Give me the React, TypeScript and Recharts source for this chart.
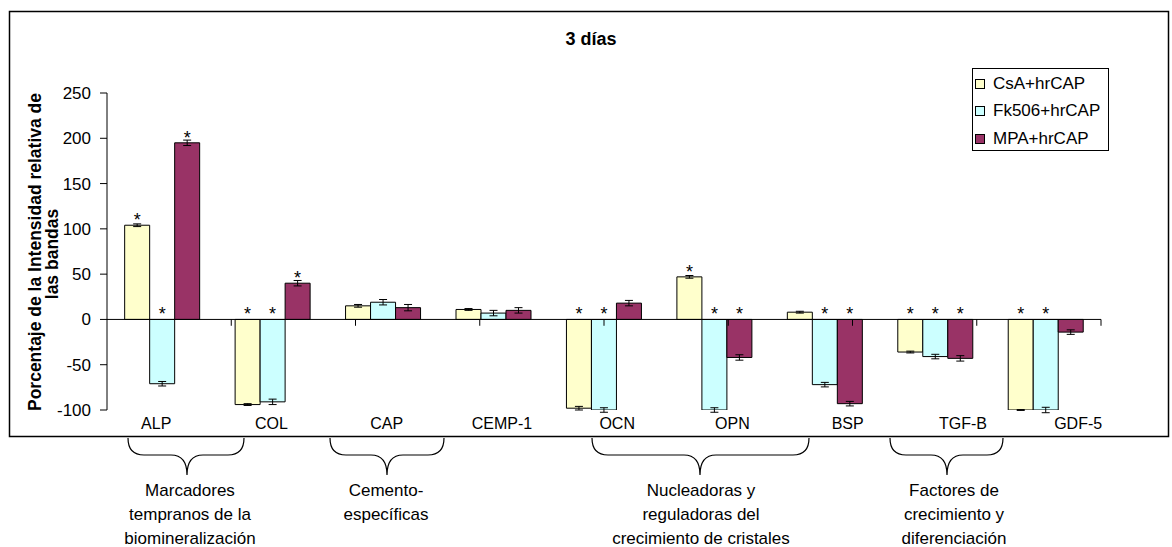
import React from 'react'
import {
  BarChart,
  Bar,
  XAxis,
  YAxis,
  ErrorBar,
  LabelList,
  Legend,
  ReferenceLine,
} from 'recharts'

const FONT = "'Liberation Sans', Arial, sans-serif"

const categories = ['ALP', 'COL', 'CAP', 'CEMP-1', 'OCN', 'OPN', 'BSP', 'TGF-B', 'GDF-5']

const csaValues = [104, -94, 15, 11, -98, 47, 8, -36, -100]
const csaErrors = [1.5, 1, 1.5, 1, 2, 1.5, 1, 1, 0.5]
const csaSig = [true, true, false, false, true, true, false, true, true]

const fk506Values = [-71, -91, 19, 7, -100, -100, -72, -41, -100]
const fk506Errors = [2.5, 3, 3, 3, 2.5, 2.5, 2.5, 2.5, 3]
const fk506Sig = [true, true, false, false, true, true, true, true, true]

const mpaValues = [195, 40, 13, 10, 18, -42, -93, -43, -14]
const mpaErrors = [3, 3, 3.5, 3, 3, 3, 2.5, 3, 2.5]
const mpaSig = [true, true, false, false, false, true, true, true, false]

const yTicks = [-100, -50, 0, 50, 100, 150, 200, 250]
const boundaryTicks = [1, 2, 3, 4, 5, 6, 7, 8, 9]

const groups = [
  { lines: ['Marcadores', 'tempranos de la', 'biomineralización'], x1: 128, x2: 244, mid: 187, tx: 190 },
  { lines: ['Cemento-', 'específicas'], x1: 330, x2: 444, mid: 387, tx: 386 },
  { lines: ['Nucleadoras y', 'reguladoras del', 'crecimiento de cristales'], x1: 592, x2: 809, mid: 700, tx: 701 },
  { lines: ['Factores de', 'crecimiento y', 'diferenciación'], x1: 890, x2: 1003, mid: 947, tx: 954 },
]

const data = categories.map((name, i) => ({
  name,
  csa: csaValues[i],
  csaErr: csaErrors[i],
  fk506: fk506Values[i],
  fk506Err: fk506Errors[i],
  mpa: mpaValues[i],
  mpaErr: mpaErrors[i],
}))

function makeStar(values: number[], sig: boolean[]) {
  return (props: any) => {
    const { x, y, width, height, index } = props
    if (!sig[index]) return null
    const top = Math.min(y, y + height)
    const ty = values[index] >= 0 ? top + 1 : top + 1
    return (
      <text x={x + width / 2} y={ty} textAnchor="middle" fontSize={18} fontFamily={FONT} fill="#000">
        *
      </text>
    )
  }
}

function CategoryTick({ x, y, payload, index }: any) {
  // Excel drifted the labels a little to the right
  const dx = -6 + 4.8 * index
  return (
    <text x={x + dx} y={y} dy="0.71em" textAnchor="middle" fontSize={16} fontFamily={FONT} fill="#000">
      {payload.value}
    </text>
  )
}

function LegendBox({ payload }: any) {
  return (
    <div
      style={{
        width: 137,
        height: 83,
        border: '1px solid #000',
        boxSizing: 'border-box',
        background: '#fff',
        fontFamily: FONT,
        fontSize: 17,
        paddingTop: 1,
      }}
    >
      {(payload || []).map((p: any) => (
        <div key={p.value} style={{ display: 'flex', alignItems: 'center', height: 27.5 }}>
          <span
            style={{
              width: 10,
              height: 10,
              marginLeft: 2,
              marginRight: 8,
              background: p.color,
              border: '1px solid #000',
              boxSizing: 'border-box',
            }}
          />
          <span>{p.value}</span>
        </div>
      ))}
    </div>
  )
}

function Brace({ x1, x2, mid }: { x1: number; x2: number; mid: number }) {
  const top = 438
  const line = 455
  const tip = 475
  const r = 16
  const d = `M ${x1} ${top} Q ${x1} ${line} ${x1 + r} ${line} L ${mid - r} ${line} Q ${mid} ${line} ${mid} ${tip} Q ${mid} ${line} ${mid + r} ${line} L ${x2 - r} ${line} Q ${x2} ${line} ${x2} ${top}`
  return <path d={d} fill="none" stroke="#000" strokeWidth={1.2} />
}

export default function App() {
  return (
    <div style={{ position: 'absolute', left: 0, top: 0, width: 1172, height: 547, background: '#fff' }}>
      <BarChart
        width={1172}
        height={547}
        data={data}
        margin={{ top: 93, right: 71, left: 47, bottom: 107 }}
        barCategoryGap="16%"
        barGap={0}
      >
        <XAxis
          dataKey="name"
          height={30}
          axisLine={false}
          tickLine={false}
          tickSize={0}
          tickMargin={8}
          tick={<CategoryTick />}
          interval={0}
        />
        <XAxis xAxisId="n" type="number" domain={[0, 9]} hide />
        <YAxis
          width={60}
          domain={[-100, 250]}
          ticks={yTicks}
          allowDataOverflow
          axisLine={{ stroke: '#000' }}
          tickLine={{ stroke: '#000' }}
          tickSize={7}
          tickMargin={9}
          tick={{ fill: '#000', fontSize: 17, fontFamily: FONT }}
        />
        <Legend
          layout="vertical"
          align="center"
          verticalAlign="middle"
          content={<LegendBox />}
          wrapperStyle={{ left: 972, top: 68, width: 137, height: 83 }}
        />
        <Bar dataKey="csa" name="CsA+hrCAP" fill="#FFFFCC" stroke="#000" strokeWidth={1} isAnimationActive={false}>
          <ErrorBar dataKey="csaErr" width={4} stroke="#000" strokeWidth={1} direction="y" />
          <LabelList dataKey="csa" content={makeStar(csaValues, csaSig)} />
        </Bar>
        <Bar dataKey="fk506" name="Fk506+hrCAP" fill="#CCFFFF" stroke="#000" strokeWidth={1} isAnimationActive={false}>
          <ErrorBar dataKey="fk506Err" width={4} stroke="#000" strokeWidth={1} direction="y" />
          <LabelList dataKey="fk506" content={makeStar(fk506Values, fk506Sig)} />
        </Bar>
        <Bar dataKey="mpa" name="MPA+hrCAP" fill="#993366" stroke="#000" strokeWidth={1} isAnimationActive={false}>
          <ErrorBar dataKey="mpaErr" width={4} stroke="#000" strokeWidth={1} direction="y" />
          <LabelList dataKey="mpa" content={makeStar(mpaValues, mpaSig)} />
        </Bar>
        <ReferenceLine y={0} stroke="#000" strokeWidth={1} />
        {boundaryTicks.map((t) => (
          <ReferenceLine
            key={t}
            xAxisId="n"
            segment={[
              { x: t, y: 0 },
              { x: t, y: -7 },
            ]}
            stroke="#000"
            strokeWidth={1}
          />
        ))}
      </BarChart>
      <svg
        width={1172}
        height={547}
        style={{ position: 'absolute', left: 0, top: 0, pointerEvents: 'none' }}
      >
        <rect x={9.5} y={11.5} width={1159} height={425} fill="none" stroke="#000" strokeWidth={1.5} />
        <text x={591} y={45} textAnchor="middle" fontSize={18} fontWeight="bold" fontFamily={FONT} fill="#000">
          3 días
        </text>
        <text
          x={41}
          y={252}
          transform="rotate(-90, 41, 252)"
          textAnchor="middle"
          fontSize={17.5}
          fontWeight="bold"
          fontFamily={FONT}
          fill="#000"
        >
          Porcentaje de la Intensidad relativa de
        </text>
        <text
          x={58}
          y={254}
          transform="rotate(-90, 58, 254)"
          textAnchor="middle"
          fontSize={17.5}
          fontWeight="bold"
          fontFamily={FONT}
          fill="#000"
        >
          las bandas
        </text>
        {groups.map((g) => (
          <g key={g.lines[0]}>
            <Brace x1={g.x1} x2={g.x2} mid={g.mid} />
            {g.lines.map((l, i) => (
              <text
                key={l}
                x={g.tx}
                y={496 + i * 24}
                textAnchor="middle"
                fontSize={17}
                fontFamily={FONT}
                fill="#000"
              >
                {l}
              </text>
            ))}
          </g>
        ))}
      </svg>
    </div>
  )
}
